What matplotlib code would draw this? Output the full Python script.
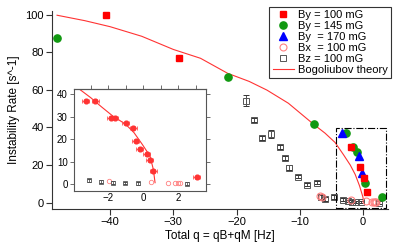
import matplotlib
matplotlib.use('Agg')
import matplotlib.pyplot as plt
from matplotlib.patches import Rectangle
from matplotlib.lines import Line2D

plt.rcParams['font.family'] = ['Liberation Sans', 'DejaVu Sans']

# ---------------- data ----------------
by100_q = [-40.7, -29.1, -1.85, -0.43, 0.19, 0.57]
by100_r = [100.0, 77.1, 29.6, 19.2, 13.4, 5.7]

by145_q = [-48.4, -21.4, -7.8, -2.74, -1.62, -0.99, 0.38, 3.05]
by145_r = [87.4, 66.9, 41.7, 37.2, 29.6, 27.1, 10.6, 3.0]

by170_q = [-3.29, -0.57, -0.21]
by170_r = [37.2, 25.0, 15.6]

bx_q = [-6.75, -6.45, -1.94, 0.44, 1.39, 1.81, 1.96, 2.10]
bx_r = [3.6, 3.2, 1.3, 0.7, 0.4, 0.6, 0.5, 0.5]

bz_q = [-18.5, -17.3, -15.9, -14.5, -13.1, -12.4, -11.7, -10.3, -8.9, -7.3,
        -6.6, -6.0, -4.6, -3.1, -2.42, -1.71, -1.03, -0.32, 2.48]
bz_r = [54.3, 44.0, 34.6, 36.5, 29.5, 23.9, 18.6, 13.8, 9.6, 10.6,
        3.2, 2.0, 2.9, 1.6, 1.0, 0.6, 0.4, 0.3, 0.1]
bz_err = [3.0, 1.0, 1.0, 2.3, 1.2, 1.0, 1.2, 0.8, 0.8, 0.8,
          1.0, 1.0, 1.0, 0.8, 0.6, 0.6, 0.6, 0.6, 0.6]

theory_q = [-48.4, -44.0, -40.0, -35.0, -30.0, -25.7, -21.4, -18.0, -15.2, -11.8,
            -7.8, -6.0, -4.4, -3.07, -2.0, -1.22, -0.54, 0.0, 0.12]
theory_r = [99.7, 96.8, 93.6, 88.5, 81.5, 76.8, 68.8, 64.5, 59.9, 52.9,
            41.7, 37.0, 32.0, 25.5, 20.0, 15.0, 9.0, 3.0, 0.0]

inset_theory_q = [-3.85, -3.0, -2.4, -1.77, -1.0, -0.53, -0.06, 0.38, 0.57, 0.67]
inset_theory_r = [43.5, 38.5, 34.5, 30.5, 26.6, 22.9, 17.7, 12.5, 6.6, 0.6]

inset_xerr = 0.2
inset_yerr = 0.8

xticks_main = [-40, -30, -20, -10, 0]
yticks_main = [0, 20, 40, 60, 80, 100]
xticks_inset = [-2, 0, 2]
yticks_inset = [0, 10, 20, 30, 40]

# ---------------- colours ----------------
RED = '#ff0000'
GREEN = '#119911'
BLUE = '#0000ff'
PINK = '#ff8080'
GRAY = '#555555'

W, H = 415, 248
fig = plt.figure(figsize=(W / 100, H / 100), dpi=100)

# ---------------- main axes ----------------
ax = fig.add_axes([52 / W, 39 / H, 336.2 / W, 198.1 / H])
ax.set_xlim(-49.2, 4.0)
ax.set_ylim(-3.35, 102.0)
for s in ['top', 'right']:
    ax.spines[s].set_visible(False)
for s in ['left', 'bottom']:
    ax.spines[s].set_color('#333333')
    ax.spines[s].set_linewidth(0.8)
ax.tick_params(direction='out', length=4, width=0.8, colors='#333333',
               labelsize=8, labelcolor='black', pad=2)
ax.set_xticks(xticks_main)
ax.set_yticks(yticks_main)
ax.set_xlabel('Total q = qB+qM [Hz]', fontsize=8.5, labelpad=2)
ax.set_ylabel('Instability Rate [s^-1]', fontsize=8.5, labelpad=4)

ax.plot(theory_q, theory_r, color='#ff3333', lw=0.8, zorder=2)

ax.errorbar(bz_q, bz_r, yerr=bz_err, fmt='s', ms=4, mfc='none', mec=GRAY,
            mew=0.7, ecolor='#333333', elinewidth=0.6, capsize=2, capthick=0.6,
            zorder=3)
ax.plot(bx_q, bx_r, 'o', ms=5, mfc='none', mec=PINK, mew=0.8, zorder=4)
ax.plot(by145_q, by145_r, 'o', ms=5.2, color=GREEN, mec=GREEN, zorder=5)
ax.plot(by170_q, by170_r, '^', ms=5.5, color=BLUE, mec=BLUE, zorder=6)
ax.plot(by100_q, by100_r, 's', ms=5, color=RED, mec=RED, zorder=7)

ax.add_patch(Rectangle((-4.3, -3.0), 8.0, 42.9, fill=False, ec='black',
                       lw=0.8, ls='-.', zorder=8, clip_on=False))

handles = [
    Line2D([], [], ls='none', marker='s', ms=5, color=RED),
    Line2D([], [], ls='none', marker='o', ms=5.2, color=GREEN),
    Line2D([], [], ls='none', marker='^', ms=5.5, color=BLUE),
    Line2D([], [], ls='none', marker='o', ms=5, mfc='none', mec=PINK, mew=0.8),
    Line2D([], [], ls='none', marker='s', ms=5, mfc='none', mec=GRAY, mew=0.7),
    Line2D([], [], color='#ff3333', lw=0.8),
]
labels = ['By = 100 mG', 'By = 145 mG', 'By  = 170 mG', 'Bx  = 100 mG',
          'Bz = 100 mG', 'Bogoliubov theory']
leg = fig.legend(handles, labels, loc='upper right',
                 bbox_to_anchor=(391 / W, 1 - 7 / H), fontsize=8,
                 frameon=True, fancybox=False, edgecolor='#333333',
                 framealpha=1, borderpad=0.3, labelspacing=0.08,
                 handlelength=1.9, handletextpad=0.35, borderaxespad=0)
leg.get_frame().set_linewidth(0.8)

# ---------------- inset ----------------
axi = fig.add_axes([74 / W, 1 - 191 / H, 132 / W, 102 / H])
axi.set_xlim(-3.96, 3.58)
axi.set_ylim(-3.1, 42.4)
for s in axi.spines.values():
    s.set_color(GRAY)
    s.set_linewidth(0.8)
axi.set_xticks(xticks_inset)
axi.set_yticks(yticks_inset)
axi.tick_params(direction='out', length=3, width=0.6, colors=GRAY,
                labelsize=7, labelcolor='black', pad=1.5,
                right=True, top=False)
axi.tick_params(axis='x', length=0)
sec = axi.secondary_xaxis('top')
sec.set_xticks([-3, -2, -1, 0, 1, 2, 3])
sec.tick_params(direction='out', length=3, width=0.6, colors=GRAY,
                labelsize=0, labeltop=False)
sec.spines['top'].set_color(GRAY)
sec.spines['top'].set_linewidth(0.8)

axi.plot(inset_theory_q, inset_theory_r, color='#ff3333', lw=0.8, zorder=2)

all_by_q = by100_q + by145_q + by170_q
all_by_r = by100_r + by145_r + by170_r
axi.errorbar(all_by_q, all_by_r, xerr=inset_xerr, yerr=inset_yerr, fmt='o',
             ms=3.4, color='#ff3333', mec='#ff3333', ecolor='#ff5555',
             elinewidth=0.6, capsize=1.2, capthick=0.6, zorder=4)
axi.plot(bx_q, bx_r, 'o', ms=3.2, mfc='none', mec=PINK, mew=0.6, zorder=3)
axi.errorbar(bz_q, bz_r, yerr=bz_err, fmt='s', ms=3, mfc='none', mec=GRAY,
             mew=0.6, ecolor='#333333', elinewidth=0.5, capsize=1.2,
             capthick=0.5, zorder=3)

fig.savefig('out.png', dpi=100)
